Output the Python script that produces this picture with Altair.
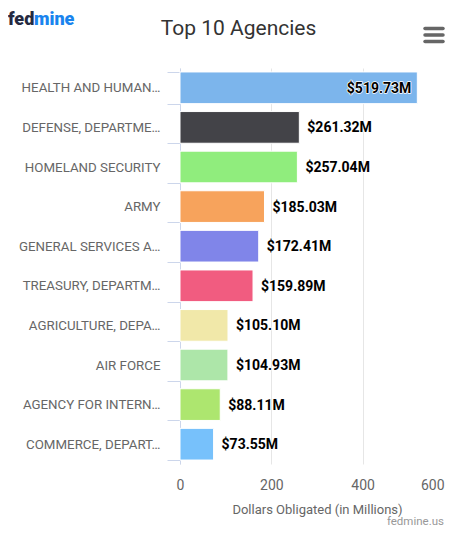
import altair as alt
import pandas as pd

categories = [
    "HEALTH AND HUMAN…",
    "DEFENSE, DEPARTME…",
    "HOMELAND SECURITY",
    "ARMY",
    "GENERAL SERVICES A…",
    "TREASURY, DEPARTM…",
    "AGRICULTURE, DEPA…",
    "AIR FORCE",
    "AGENCY FOR INTERN…",
    "COMMERCE, DEPART…",
]
values = [519.73, 261.32, 257.04, 185.03, 172.41, 159.89, 105.10, 104.93, 88.11, 73.55]
colors = ["#7cb5ec", "#434348", "#90ed7d", "#f7a35c", "#8085e9",
          "#f15c80", "#f1e8a9", "#ade6a9", "#ade66f", "#77c1fb"]
x_ticks = [0, 200, 400, 600]
title_text = "Top 10 Agencies"
x_title = "Dollars Obligated (in Millions)"
credit_text = "fedmine.us"

df = pd.DataFrame({
    "agency": categories,
    "value": values,
    "label": [f"${v:.2f}M" for v in values],
})

FONT = "Roboto"
W, H = 274, 396

y_enc = alt.Y(
    "agency:N",
    sort=categories,
    title=None,
    scale=alt.Scale(paddingInner=0.2, paddingOuter=0.1),
    axis=alt.Axis(
        tickBand="extent",
        tickSize=13,
        tickColor="#ccd6eb",
        domainColor="#ccd6eb",
        labelColor="#666666",
        labelFont=FONT,
        labelFontSize=13.3,
        labelPadding=7,
        labelLimit=300,
        grid=False,
    ),
)
x_enc = alt.X(
    "value:Q",
    scale=alt.Scale(domain=[0, 600], nice=False),
    axis=alt.Axis(
        values=x_ticks,
        title=x_title,
        titleFont=FONT,
        titleFontSize=13,
        titleFontWeight="normal",
        titleColor="#666666",
        titleBaseline="alphabetic",
        titleY=49,
        labelFont=FONT,
        labelFontSize=14,
        labelColor="#666666",
        labelBaseline="alphabetic",
        labelPadding=25,
        labelAlign={"condition": {"test": "datum.value == 600", "value": "right"}, "value": "center"},
        labelOffset={"condition": {"test": "datum.value == 600", "value": -10}, "value": 0},
        labelFlush=False,
        ticks=False,
        tickSize=0,
        domain=False,
        grid=True,
        gridColor="#e6e6e6",
    ),
)

base = alt.Chart(df)

bars = base.mark_bar(stroke="white", strokeWidth=1).encode(
    x=x_enc,
    y=y_enc,
    color=alt.Color("agency:N", scale=alt.Scale(domain=categories, range=colors), legend=None),
)

def label_layer(cond, align, dx, outline):
    kw = dict(align=align, baseline="middle", dx=dx, dy=1, font=FONT,
              fontSize=14, fontWeight="bold", color="black")
    if outline:
        kw.update(stroke="white", strokeWidth=1.5, strokeJoin="round")
    return base.transform_filter(cond).mark_text(**kw).encode(
        x="value:Q", y=alt.Y("agency:N", sort=categories), text="label:N"
    )

labels = [
    label_layer("datum.value < 400", "left", 8, True),
    label_layer("datum.value < 400", "left", 8, False),
    label_layer("datum.value >= 400", "right", -6, True),
    label_layer("datum.value >= 400", "right", -6, False),
]

one = pd.DataFrame({"t": [title_text], "fed": ["fed"], "mine": ["mine"], "c": [credit_text]})
deco = alt.Chart(one)

title = deco.mark_text(font=FONT, fontSize=21, color="#333333", align="center",
                       baseline="alphabetic").encode(
    text="t:N", x=alt.value(58.5), y=alt.value(-33))
logo_fed = deco.mark_text(font=FONT, fontSize=18, fontWeight=900, color="#252a41",
                          align="left", baseline="alphabetic").encode(
    text="fed:N", x=alt.value(-172), y=alt.value(-43))
logo_mine = deco.mark_text(font=FONT, fontSize=18, fontWeight=900, color="#1a84ee",
                           align="left", baseline="alphabetic").encode(
    text="mine:N", x=alt.value(-146), y=alt.value(-43))
credit = deco.mark_text(font=FONT, fontSize=11.5, color="#999999", align="right",
                        baseline="alphabetic").encode(
    text="c:N", x=alt.value(264), y=alt.value(457))

menu = [
    deco.mark_rule(color="#666666", strokeWidth=3.5, strokeCap="round").encode(
        x=alt.value(245), x2=alt.value(263), y=alt.value(yy))
    for yy in (-39.5, -33, -26.5)
]

chart = alt.layer(bars, *labels, title, logo_fed, logo_mine, credit, *menu).properties(
    width=W,
    height=H,
    autosize=alt.AutoSizeParams(type="none"),
    padding={"left": 172, "top": 60, "right": -8, "bottom": 63},
    background="white",
).configure_view(stroke=None)

chart.save("out.html", embed_options={"renderer": "svg", "actions": False})
